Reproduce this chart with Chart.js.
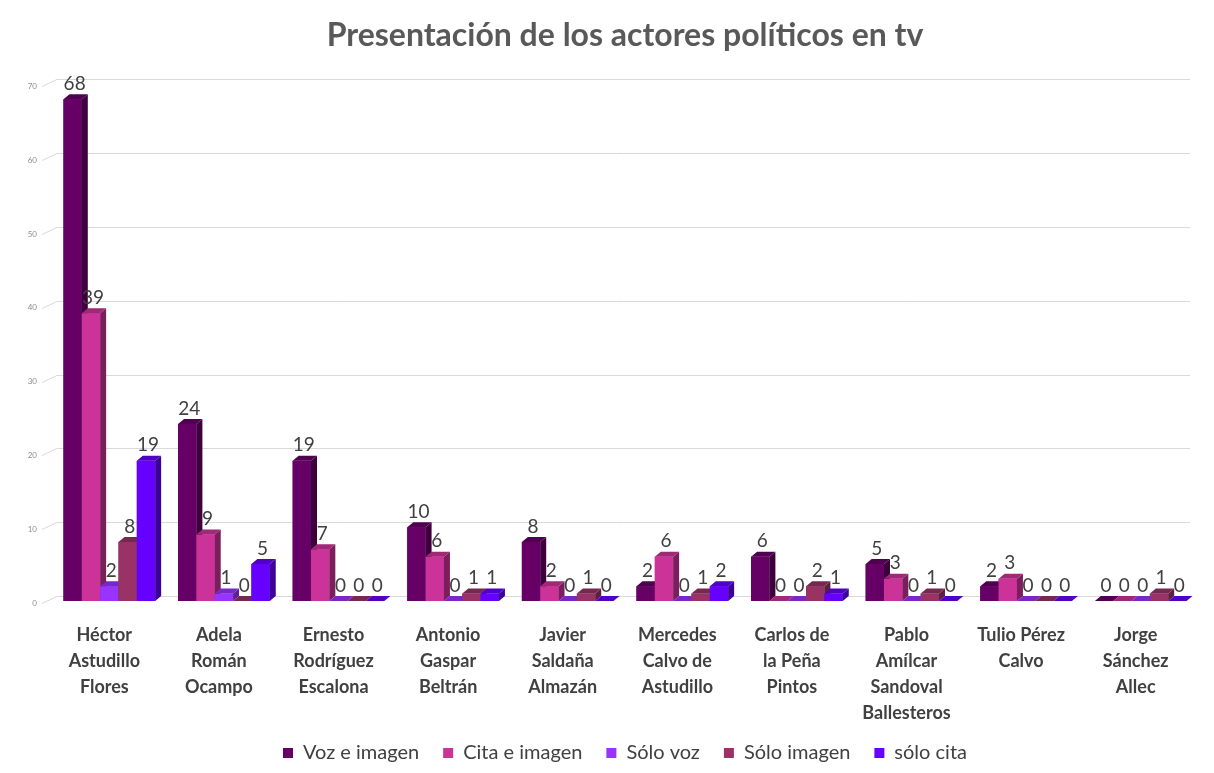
<!DOCTYPE html>
<html lang="es">
<head>
<meta charset="UTF-8">
<title>Presentación de los actores políticos en tv</title>
<script src="https://cdn.jsdelivr.net/npm/chart.js"></script>
<style>
    html, body { margin: 0; padding: 0; background: #fff; }
    #caja { width: 1214px; height: 773px; position: relative; }
</style>
</head>
<body>
<div id="caja"><canvas id="grafico"></canvas></div>
<script>
    // Actores (cada nombre partido en líneas como en el original)
    const actores = [
        ["Héctor", "Astudillo", "Flores"],
        ["Adela", "Román", "Ocampo"],
        ["Ernesto", "Rodríguez", "Escalona"],
        ["Antonio", "Gaspar", "Beltrán"],
        ["Javier", "Saldaña", "Almazán"],
        ["Mercedes", "Calvo de", "Astudillo"],
        ["Carlos de", "la Peña", "Pintos"],
        ["Pablo", "Amílcar", "Sandoval", "Ballesteros"],
        ["Tulio Pérez", "Calvo"],
        ["Jorge", "Sánchez", "Allec"]
    ];

    // Series
    const vozImagen  = [68, 24, 19, 10, 8, 2, 6, 5, 2, 0];
    const citaImagen = [39, 9, 7, 6, 2, 6, 0, 3, 3, 0];
    const soloVoz    = [2, 1, 0, 0, 0, 0, 0, 0, 0, 0];
    const soloImagen = [8, 0, 0, 1, 1, 1, 2, 1, 0, 1];
    const soloCita   = [19, 5, 0, 1, 0, 2, 1, 0, 0, 0];

    const nombresSeries = ["Voz e imagen", "Cita e imagen", "Sólo voz", "Sólo imagen", "sólo cita"];
    const valoresSeries = [vozImagen, citaImagen, soloVoz, soloImagen, soloCita];
    const colores = ["#660066", "#CC3399", "#9933FF", "#993366", "#6600FF"];

    const PROF_X = 6, PROF_Y = -5;

    function oscurecer(hex, f) {
        const n = parseInt(hex.slice(1), 16);
        const r = Math.round(((n >> 16) & 255) * f);
        const g = Math.round(((n >> 8) & 255) * f);
        const b = Math.round((n & 255) * f);
        return `rgb(${r},${g},${b})`;
    }

    // rejilla "de fondo" con pequeñas diagonales, como el suelo 3D
    const rejilla3d = {
        id: "rejilla3d",
        beforeDatasetsDraw(chart) {
            const ctx = chart.ctx;
            const y = chart.scales.y;
            const area = chart.chartArea;
            ctx.save();
            ctx.strokeStyle = "#d9d9d9";
            ctx.lineWidth = 1;
            y.ticks.forEach(t => {
                const py = Math.round(y.getPixelForValue(t.value)) + 0.5;
                ctx.beginPath();
                ctx.moveTo(42, py + 2);
                ctx.lineTo(57, py - 5);
                ctx.lineTo(area.right - 8, py - 5);
                ctx.stroke();
            });
            ctx.restore();
        }
    };

    // barras con cara frontal, lateral y superior (serie por serie, de izquierda a derecha)
    const barras3d = {
        id: "barras3d",
        afterDatasetsDraw(chart) {
            const ctx = chart.ctx;
            ctx.save();
            chart.data.datasets.forEach((ds, i) => {
                const base = colores[i];
                chart.getDatasetMeta(i).data.forEach(bar => {
                    const w = bar.width;
                    const izq = bar.x - w / 2, der = bar.x + w / 2;
                    const arriba = bar.y, abajo = bar.base;
                    ctx.fillStyle = base;
                    ctx.fillRect(izq, arriba, w, abajo - arriba);
                    // lateral
                    ctx.fillStyle = oscurecer(base, 0.6);
                    ctx.beginPath();
                    ctx.moveTo(der, arriba);
                    ctx.lineTo(der + PROF_X, arriba + PROF_Y);
                    ctx.lineTo(der + PROF_X, abajo + PROF_Y);
                    ctx.lineTo(der, abajo);
                    ctx.closePath();
                    ctx.fill();
                    // tapa
                    ctx.fillStyle = oscurecer(base, 0.78);
                    ctx.beginPath();
                    ctx.moveTo(izq, arriba);
                    ctx.lineTo(izq + PROF_X, arriba + PROF_Y);
                    ctx.lineTo(der + PROF_X, arriba + PROF_Y);
                    ctx.lineTo(der, arriba);
                    ctx.closePath();
                    ctx.fill();
                });
            });
            // etiquetas de valor
            ctx.font = "19px Lato";
            ctx.fillStyle = "#404040";
            ctx.textAlign = "center";
            ctx.textBaseline = "bottom";
            chart.data.datasets.forEach((ds, i) => {
                chart.getDatasetMeta(i).data.forEach((bar, j) => {
                    ctx.fillText(ds.data[j], bar.x + 2, bar.y + PROF_Y - 1);
                });
            });
            ctx.restore();
        }
    };

    const ctx = document.getElementById("grafico").getContext("2d");
    new Chart(ctx, {
        type: "bar",
        data: {
            labels: actores,
            datasets: valoresSeries.map((vals, i) => ({
                label: nombresSeries[i],
                data: vals,
                backgroundColor: colores[i],
                borderWidth: 0,
                categoryPercentage: 0.8,
                barPercentage: 1
            }))
        },
        options: {
            responsive: true,
            maintainAspectRatio: false,
            animation: false,
            layout: { padding: { left: 0, right: 16, top: 0, bottom: 0 } },
            plugins: {
                title: {
                    display: true,
                    fullSize: false,
                    text: "Presentación de los actores políticos en tv",
                    color: "#595959",
                    font: { family: "Lato", size: 32, weight: "bold", lineHeight: 1.2 },
                    padding: { top: 16, bottom: 30 }
                },
                legend: {
                    position: "bottom",
                    fullSize: false,
                    labels: {
                        color: "#404040",
                        font: { family: "Lato", size: 20 },
                        boxWidth: 10,
                        boxHeight: 10,
                        padding: 24
                    }
                },
                tooltip: { enabled: false }
            },
            scales: {
                x: {
                    grid: { display: false, drawTicks: false },
                    border: { display: false },
                    ticks: {
                        color: "#404040",
                        font: { family: "Lato", size: 18, weight: "bold", lineHeight: 1.45 },
                        padding: 21,
                        labelOffset: -5,
                        maxRotation: 0,
                        autoSkip: false
                    },
                    afterFit(scale) { scale.height = 118; }
                },
                y: {
                    min: 0,
                    max: 70,
                    grid: { display: false, drawTicks: false },
                    border: { display: false },
                    ticks: {
                        stepSize: 10,
                        color: "#8c8c8c",
                        font: { family: "Lato", size: 8 },
                        padding: 15,
                        labelOffset: 2
                    },
                    afterFit(scale) { scale.width = 52; }
                }
            }
        },
        plugins: [rejilla3d, barras3d]
    });
</script>
</body>
</html>
